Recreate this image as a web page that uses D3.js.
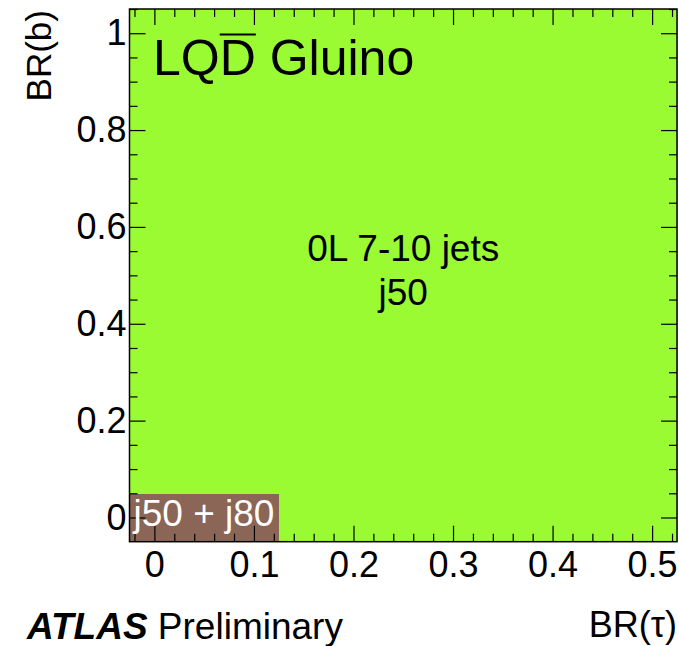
<!DOCTYPE html>
<html>
<head>
<meta charset="utf-8">
<script src="https://cdn.jsdelivr.net/npm/d3@7"></script>
<style>
  html, body { margin: 0; padding: 0; background: #fff; }
  svg text { font-family: "Liberation Sans", Arial, Helvetica, sans-serif; fill: #000; }
</style>
</head>
<body>
<svg id="chart" width="679" height="646"></svg>
<script>
// Grid of branching-ratio points (cell centres)
const brTau = [0, 0.05, 0.1, 0.15, 0.2, 0.25, 0.3, 0.35, 0.4, 0.45, 0.5];
const brB = [0, 0.1, 0.2, 0.3, 0.4, 0.5, 0.6, 0.7, 0.8, 0.9, 1.0];

// Trigger selection per grid point: everything uses j50 except these points
const defaultTrigger = "j50";
const combinedTrigger = "j50 + j80";
const combinedPoints = [[0, 0], [0.05, 0], [0.1, 0]];

// Tick values and labels
const xMajorTicks = [0, 0.1, 0.2, 0.3, 0.4, 0.5];
const xTickLabels = ["0", "0.1", "0.2", "0.3", "0.4", "0.5"];
const yMajorTicks = [0, 0.2, 0.4, 0.6, 0.8, 1.0];
const yTickLabels = ["0", "0.2", "0.4", "0.6", "0.8", "1"];

// Text for the main region
const regionLines = ["0L 7-10 jets", "j50"];

const colors = { "j50": "#9afb33", "j50 + j80": "#8b6556" };

const svg = d3.select("#chart");
const frameL = 129.5, frameR = 677, frameT = 9, frameB = 541.7;

const x = d3.scaleLinear().domain([-0.025, 0.525]).range([frameL, frameR]);
const y = d3.scaleLinear().domain([-0.05, 1.05]).range([frameB, frameT]);
const halfW = 0.025, halfH = 0.05;

const isCombined = (t, b) => combinedPoints.some(p => Math.abs(p[0] - t) < 1e-9 && Math.abs(p[1] - b) < 1e-9);
const cells = [];
brTau.forEach(t => brB.forEach(b => cells.push({ t, b, trig: isCombined(t, b) ? combinedTrigger : defaultTrigger })));

// Cells
svg.append("g").selectAll("rect").data(cells).join("rect")
  .attr("x", d => x(d.t - halfW))
  .attr("y", d => y(d.b + halfH))
  .attr("width", d => x(d.t + halfW) - x(d.t - halfW) + 0.5)
  .attr("height", d => y(d.b - halfH) - y(d.b + halfH) + 0.5)
  .attr("fill", d => colors[d.trig])
  .attr("shape-rendering", "crispEdges");

// Axes (ticks pointing inwards on all four sides)
const fontTick = 36;
const xMinor = d3.range(-0.02, 0.5201, 0.02).filter(v => !xMajorTicks.some(m => Math.abs(m - v) < 1e-6));
const yMinor = d3.range(0.05, 1.0501, 0.05).filter(v => !yMajorTicks.some(m => Math.abs(m - v) < 1e-6));

function styleAxis(g) {
  g.select(".domain").remove();
  g.selectAll("line").attr("stroke", "#000").attr("stroke-width", 1.2);
  g.selectAll("text").style("font-size", fontTick + "px")
    .style("font-family", "'Liberation Sans', Arial, Helvetica, sans-serif").attr("fill", "#000");
}

svg.append("g").attr("transform", `translate(0,${frameB})`)
  .call(d3.axisBottom(x).tickValues(xMajorTicks).tickSizeInner(-16).tickSizeOuter(0).tickPadding(9.5)
    .tickFormat((d, i) => xTickLabels[i]))
  .call(styleAxis);
svg.append("g").attr("transform", `translate(0,${frameB})`)
  .call(d3.axisBottom(x).tickValues(xMinor).tickSizeInner(-8).tickSizeOuter(0).tickFormat(""))
  .call(styleAxis);
svg.append("g").attr("transform", `translate(0,${frameT})`)
  .call(d3.axisTop(x).tickValues(xMajorTicks).tickSizeInner(-16).tickSizeOuter(0).tickFormat(""))
  .call(styleAxis);
svg.append("g").attr("transform", `translate(0,${frameT})`)
  .call(d3.axisTop(x).tickValues(xMinor).tickSizeInner(-8).tickSizeOuter(0).tickFormat(""))
  .call(styleAxis);

svg.append("g").attr("transform", `translate(${frameL},0)`)
  .call(d3.axisLeft(y).tickValues(yMajorTicks).tickSizeInner(-16).tickSizeOuter(0).tickPadding(3)
    .tickFormat((d, i) => yTickLabels[i]))
  .call(styleAxis);
svg.append("g").attr("transform", `translate(${frameL},0)`)
  .call(d3.axisLeft(y).tickValues(yMinor).tickSizeInner(-8).tickSizeOuter(0).tickFormat(""))
  .call(styleAxis);
svg.append("g").attr("transform", `translate(${frameR},0)`)
  .call(d3.axisRight(y).tickValues(yMajorTicks).tickSizeInner(-16).tickSizeOuter(0).tickFormat(""))
  .call(styleAxis);
svg.append("g").attr("transform", `translate(${frameR},0)`)
  .call(d3.axisRight(y).tickValues(yMinor).tickSizeInner(-8).tickSizeOuter(0).tickFormat(""))
  .call(styleAxis);

// Frame
svg.append("rect")
  .attr("x", frameL).attr("y", frameT)
  .attr("width", frameR - frameL).attr("height", frameB - frameT)
  .attr("fill", "none").attr("stroke", "#000").attr("stroke-width", 1.5);

// Title with overlined D
const title = svg.append("text").attr("x", 153).attr("y", 75).style("font-size", "50px");
title.append("tspan").text("LQ");
title.append("tspan").text("D");
title.append("tspan").text(" Gluino");
const tnode = title.node();
const dStart = tnode.getStartPositionOfChar(2).x;
const dEnd = tnode.getEndPositionOfChar(2).x;
svg.append("line")
  .attr("x1", dStart).attr("x2", dEnd)
  .attr("y1", 34.5).attr("y2", 34.5)
  .attr("stroke", "#000").attr("stroke-width", 2);

// Region labels
const cx = x(0.25), cy = y(0.5);
svg.append("text").attr("x", cx).attr("y", cy - 14).attr("text-anchor", "middle")
  .style("font-size", "37px").text(regionLines[0]);
svg.append("text").attr("x", cx).attr("y", cy + 29.5).attr("text-anchor", "middle")
  .style("font-size", "37px").text(regionLines[1]);

svg.append("text").attr("x", x(-0.025) + 4).attr("y", y(0) + 9)
  .style("font-size", "37px").style("fill", "#fff").text(combinedTrigger);

// Axis titles
svg.append("text").attr("x", frameR).attr("y", 637).attr("text-anchor", "end")
  .style("font-size", "36px").text("BR(τ)");
svg.append("text").attr("transform", "translate(51,10) rotate(-90)").attr("text-anchor", "end")
  .style("font-size", "35px").text("BR(b)");

// Experiment label
const atlas = svg.append("text").attr("x", 27).attr("y", 639).style("font-size", "37px");
atlas.append("tspan").style("font-weight", "bold").style("font-style", "italic").text("ATLAS");
atlas.append("tspan").text(" Preliminary");
</script>
</body>
</html>
